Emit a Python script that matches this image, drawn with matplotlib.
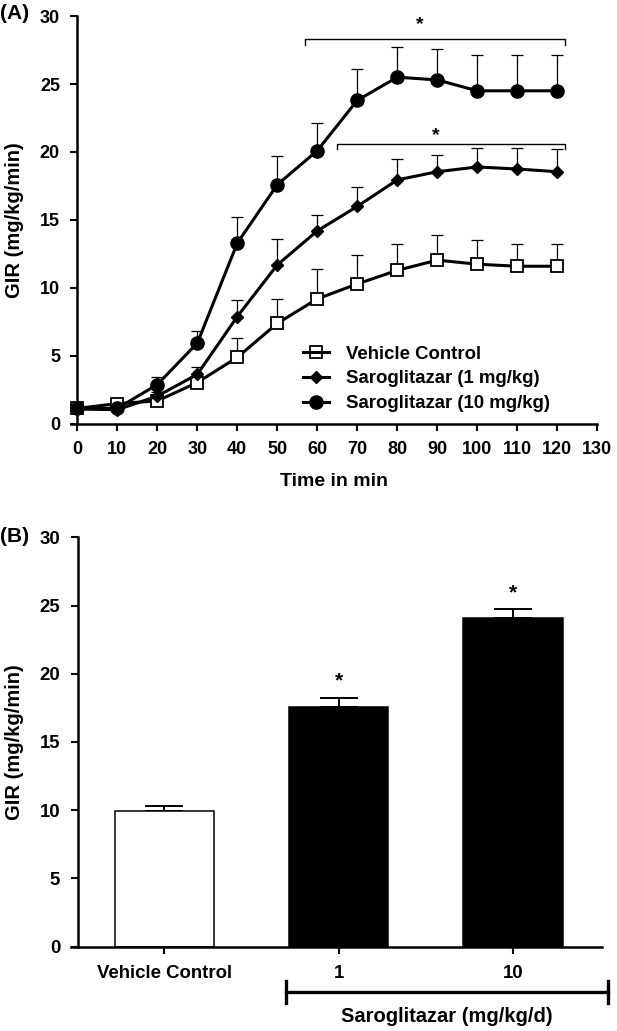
import matplotlib
matplotlib.use("Agg")
import matplotlib.pyplot as plt
from matplotlib.lines import Line2D
import numpy as np

plt.rcParams['font.family'] = ['Liberation Sans', 'DejaVu Sans']
plt.rcParams['font.weight'] = 'bold'

# ---------------- data: panel A ----------------
time_min = [0, 10, 20, 30, 40, 50, 60, 70, 80, 90, 100, 110, 120]
vehicle_gir = [1.15, 1.5, 1.7, 3.05, 4.9, 7.4, 9.2, 10.3, 11.3, 12.05, 11.75, 11.6, 11.6]
vehicle_err = [0.1, 0.15, 0.2, 0.3, 1.4, 1.8, 2.2, 2.1, 1.9, 1.85, 1.75, 1.6, 1.6]
sarog1_gir = [1.1, 1.05, 2.05, 3.65, 7.9, 11.7, 14.2, 16.0, 17.95, 18.55, 18.9, 18.75, 18.55]
sarog1_err = [0.1, 0.1, 0.3, 0.55, 1.2, 1.9, 1.2, 1.4, 1.55, 1.25, 1.4, 1.55, 1.65]
sarog10_gir = [1.15, 1.15, 2.9, 5.95, 13.3, 17.6, 20.1, 23.8, 25.5, 25.3, 24.5, 24.5, 24.5]
sarog10_err = [0.1, 0.1, 0.55, 0.9, 1.9, 2.1, 2.0, 2.3, 2.2, 2.3, 2.6, 2.6, 2.6]
series_labels = ["Vehicle Control", "Saroglitazar (1 mg/kg)", "Saroglitazar (10 mg/kg)"]
x_ticks_a = [0, 10, 20, 30, 40, 50, 60, 70, 80, 90, 100, 110, 120, 130]
y_ticks = [0, 5, 10, 15, 20, 25, 30]

# significance brackets: start, end, bracket level, star baseline level
bracket_start = [57, 65]
bracket_end = [122, 122]
bracket_level = [28.3, 20.6]
bracket_star = [29.07, 20.91]

# ---------------- data: panel B ----------------
groups_b = ["Vehicle Control", "1", "10"]
gir_b = [9.95, 17.6, 24.05]
err_b = [0.35, 0.65, 0.7]
star_b = [False, True, True]

W, H = 617, 1031
fig = plt.figure(figsize=(W / 100, H / 100), dpi=100)

def frac_x(px):
    return px / W

def frac_y(py):
    return 1 - py / H

# ---------------- Panel A ----------------
a_left, a_right, a_top, a_bottom = 70.7, 597.3, 16.0, 424.0
ax1 = fig.add_axes([frac_x(a_left), frac_y(a_bottom),
                    (a_right - a_left) / W, (a_bottom - a_top) / H])
ax1.set_xlim(-1.65, 130)
ax1.set_ylim(0, 30)

ser = [
    (vehicle_gir, vehicle_err, dict(marker='s', ms=8, mfc='white', mec='black', mew=1.3)),
    (sarog1_gir, sarog1_err, dict(marker='D', ms=6.3, mfc='black', mec='black', mew=1)),
    (sarog10_gir, sarog10_err, dict(marker='o', ms=9.5, mfc='black', mec='black', mew=1)),
]
for vals, errs, mk in ser:
    ax1.errorbar(time_min, vals, yerr=[np.zeros(len(errs)), errs], fmt='none',
                 ecolor='black', elinewidth=0.9, capsize=4.3, capthick=0.9, zorder=2)
for vals, errs, mk in ser:
    ax1.plot(time_min, vals, color='black', lw=2.2, zorder=3, clip_on=False, **mk)

for x0, x1, yb, ys in zip(bracket_start, bracket_end, bracket_level, bracket_star):
    ax1.plot([x0, x0, x1, x1], [yb - 0.4, yb, yb, yb - 0.4], color='black', lw=1.0,
             clip_on=False, zorder=4)
    ax1.text((x0 + x1) / 2 - 4, ys, '*', ha='center', va='baseline', fontsize=14,
             fontweight='bold')

for s in ['top', 'right']:
    ax1.spines[s].set_visible(False)
ax1.spines['left'].set_position(('data', 0))
ax1.spines['left'].set_linewidth(1.8)
ax1.spines['bottom'].set_linewidth(1.8)
ax1.set_xticks(x_ticks_a)
ax1.set_yticks(y_ticks)
ax1.tick_params(axis='both', direction='out', length=5, width=1.5, labelsize=13)
ax1.tick_params(axis='x', pad=7.5)
ax1.tick_params(axis='y', pad=7.5)
for lab in ax1.get_xticklabels() + ax1.get_yticklabels():
    lab.set_fontweight('bold')
ax1.set_xlabel("Time in min", fontsize=14, fontweight='bold', labelpad=10.5)
ax1.set_ylabel("GIR (mg/kg/min)", fontsize=14.5, fontweight='bold')
ax1.yaxis.set_label_coords((24.5 - a_left) / (a_right - a_left), 0.5)

handles = [Line2D([], [], color='black', lw=2.2, marker='s', ms=8, mfc='none', mec='black', mew=1.3),
           Line2D([], [], color='black', lw=2.2, marker='D', ms=6.3, mfc='black', mec='black'),
           Line2D([], [], color='black', lw=2.2, marker='o', ms=9.5, mfc='black', mec='black')]
leg = ax1.legend(handles, series_labels, loc='upper left',
                 bbox_to_anchor=((294 - a_left) / (a_right - a_left), (a_bottom - 336.5) / (a_bottom - a_top)),
                 frameon=False, borderpad=0, handlelength=1.4, handletextpad=0.9,
                 labelspacing=0.41, prop=dict(size=13.4, weight='bold'))

fig.text(0.0, frac_y(13.5), "(A)", ha='left', va='center', fontsize=15, fontweight='bold')

# ---------------- Panel B ----------------
b_left, b_right, b_top, b_bottom = 70.7, 602.0, 537.3, 946.7
ax2 = fig.add_axes([frac_x(b_left), frac_y(b_bottom),
                    (b_right - b_left) / W, (b_bottom - b_top) / H])
xpos = np.arange(len(groups_b))
ax2.set_xlim(-0.537, 2.511)
ax2.set_ylim(0, 30)
colors_b = ['white', 'black', 'black']
ax2.bar(xpos, gir_b, width=0.57, color=colors_b, edgecolor='black', linewidth=1.1, zorder=2)
ax2.errorbar(xpos, gir_b, yerr=[np.zeros(len(err_b)), err_b], fmt='none', ecolor='black',
             elinewidth=1.4, capsize=14, capthick=1.4, zorder=1)
for xi, v, e, s in zip(xpos, gir_b, err_b, star_b):
    if s:
        ax2.text(xi, v + e + 0.8, '*', ha='center', va='baseline', fontsize=15, fontweight='bold')

for s in ['top', 'right']:
    ax2.spines[s].set_visible(False)
ax2.spines['left'].set_position(('data', -0.497))
ax2.spines['left'].set_linewidth(1.8)
ax2.spines['bottom'].set_linewidth(1.8)
ax2.set_xticks(xpos)
ax2.set_xticklabels(groups_b)
ax2.set_yticks(y_ticks)
ax2.tick_params(axis='both', direction='out', length=5, width=1.5, labelsize=13.4)
ax2.tick_params(axis='x', pad=8)
ax2.tick_params(axis='y', pad=7.5)
for lab in ax2.get_xticklabels() + ax2.get_yticklabels():
    lab.set_fontweight('bold')
ax2.set_ylabel("GIR (mg/kg/min)", fontsize=14.5, fontweight='bold')
ax2.yaxis.set_label_coords((24.5 - b_left) / (b_right - b_left), 0.5)

# group bracket below axis
bx0, bx1, by = 0.698, 2.543, -3.30
ax2.plot([bx0, bx1], [by, by], color='black', lw=2.4, clip_on=False)
ax2.plot([bx0, bx0], [by + 0.75, by - 0.85], color='black', lw=2.4, clip_on=False)
ax2.plot([bx1, bx1], [by + 0.75, by - 0.85], color='black', lw=2.4, clip_on=False)
ax2.text((bx0 + bx1) / 2, -5.14, "Saroglitazar (mg/kg/d)", ha='center', va='center',
         fontsize=14.5, fontweight='bold')

fig.text(0.0, frac_y(536.7), "(B)", ha='left', va='center', fontsize=15, fontweight='bold')

fig.savefig("out.png", dpi=100)
